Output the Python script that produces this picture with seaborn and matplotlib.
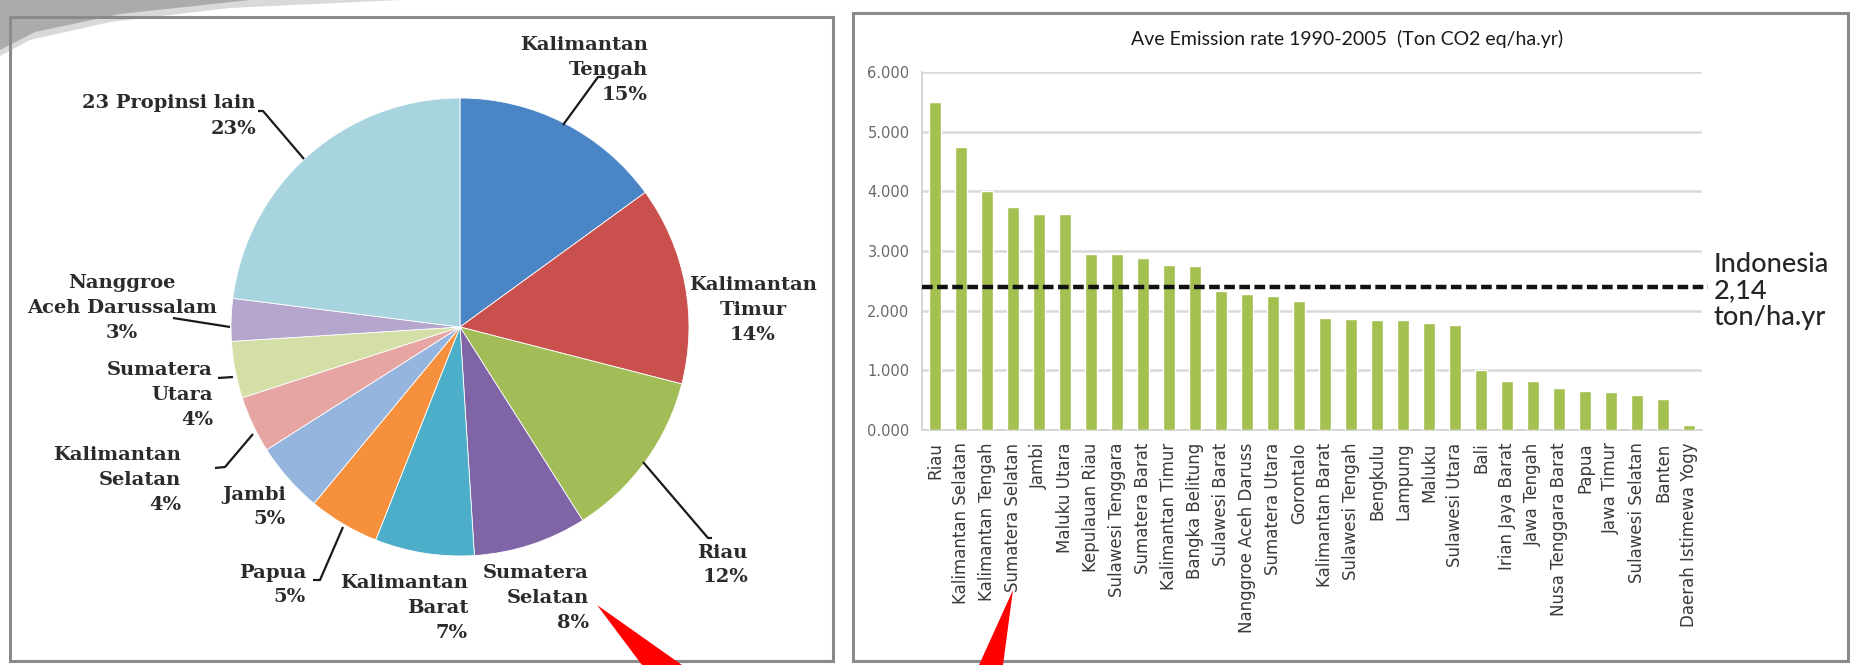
import numpy as np
import pandas as pd
import matplotlib
matplotlib.use("Agg")
import matplotlib.pyplot as plt
import seaborn as sns
from matplotlib.patches import Polygon, Rectangle

# ---------------- data ----------------
pie_labels = ["Kalimantan\nTengah", "Kalimantan\nTimur", "Riau", "Sumatera\nSelatan",
              "Kalimantan\nBarat", "Papua", "Jambi", "Kalimantan\nSelatan",
              "Sumatera\nUtara", "Nanggroe\nAceh Darussalam", "23 Propinsi lain"]
pie_share = [15, 14, 12, 8, 7, 5, 5, 4, 4, 3, 23]
pie_colors = ["#4A86C5", "#C9504C", "#A2BC57", "#8065A6", "#4CAEC8", "#F7903C",
              "#95B5DE", "#E6A5A2", "#D3DFA6", "#B5A6CE", "#A7D4DF"]

provinces = ["Riau", "Kalimantan Selatan", "Kalimantan Tengah", "Sumatera Selatan", "Jambi",
             "Maluku Utara", "Kepulauan Riau", "Sulawesi Tenggara", "Sumatera Barat",
             "Kalimantan Timur", "Bangka Belitung", "Sulawesi Barat", "Nanggroe Aceh Daruss",
             "Sumatera Utara", "Gorontalo", "Kalimantan Barat", "Sulawesi Tengah", "Bengkulu",
             "Lampung", "Maluku", "Sulawesi Utara", "Bali", "Irian Jaya Barat", "Jawa Tengah",
             "Nusa Tenggara Barat", "Papua", "Jawa Timur", "Sulawesi Selatan", "Banten",
             "Daerah Istimewa Yogy"]
rates = [5.50, 4.75, 4.00, 3.74, 3.62, 3.62, 2.95, 2.95, 2.88, 2.76, 2.75, 2.33, 2.28, 2.25,
         2.17, 1.87, 1.86, 1.84, 1.84, 1.79, 1.76, 1.00, 0.82, 0.82, 0.71, 0.66, 0.63, 0.58,
         0.52, 0.08]
y_ticks = [0, 1, 2, 3, 4, 5, 6]
y_tick_labels = ["0.000", "1.000", "2.000", "3.000", "4.000", "5.000", "6.000"]
indonesia_line = 2.4
indonesia_text = "Indonesia\n2,14\nton/ha.yr"
bar_title = "Ave Emission rate 1990-2005  (Ton CO2 eq/ha.yr)"
bar_color = "#A3C050"

# ---------------- figure ----------------
W, H = 1853, 665
sns.set_theme(style="white")
plt.rcParams["font.family"] = ["DejaVu Sans"]

fig = plt.figure(figsize=(W / 100, H / 100), dpi=100)
fig.patch.set_facecolor("white")


def fr(x0, y0, x1, y1):
    return [x0 / W, 1 - y1 / H, (x1 - x0) / W, (y1 - y0) / H]


# ---- pie ----
cx, cy, r = 460, 327, 229
axp = fig.add_axes(fr(cx - r, cy - r, cx + r, cy + r))
axp.pie(pie_share, colors=pie_colors, startangle=90, counterclock=False, radius=1,
        wedgeprops=dict(edgecolor="white", linewidth=0.6))
axp.set_xlim(-1, 1)
axp.set_ylim(-1, 1)
axp.set_aspect("equal")
axp.axis("off")

# ---- bars ----
axb = fig.add_axes(fr(922, 72, 1702, 430))
df = pd.DataFrame({"prov": provinces, "rate": rates})
sns.barplot(data=df, x="prov", y="rate", color=bar_color, saturation=1, width=0.46,
            errorbar=None, ax=axb, zorder=3)
axb.set_xlim(-0.5, len(provinces) - 0.5)
axb.set_ylim(0, 6)
axb.set_yticks(y_ticks)
axb.set_yticklabels(y_tick_labels, fontsize=10.5, color="#6a6a6a")
axb.set_xticks(range(len(provinces)))
axb.set_xticklabels(provinces, rotation=90, fontsize=12, color="#3a3a3a")
axb.set_xlabel("")
axb.set_ylabel("")
axb.yaxis.grid(True, color="#d9d9d9", lw=1.8)
axb.set_axisbelow(True)
for s in ["top", "right"]:
    axb.spines[s].set_visible(False)
for s in ["left", "bottom"]:
    axb.spines[s].set_color("#d0d0d0")
    axb.spines[s].set_linewidth(1.2)
axb.tick_params(axis="y", length=0, pad=9)
axb.tick_params(axis="x", length=4, color="#c8d0e0", pad=5)
axb.axhline(indonesia_line, xmin=0, xmax=1.008, color="#111111", lw=3.2,
            dashes=(2.4, 1.0), clip_on=False, zorder=5)

# ---- overlay (pixel coordinates) ----
axo = fig.add_axes([0, 0, 1, 1], zorder=10)
axo.set_xlim(0, W)
axo.set_ylim(H, 0)
axo.axis("off")
axo.patch.set_alpha(0)

# slide decoration
axo.add_patch(Polygon([(0, 0), (400, 0), (230, 8), (110, 22), (30, 40), (0, 56)],
                      closed=True, fc="#d9d9d9", ec="none"))
axo.add_patch(Polygon([(0, 0), (250, 0), (120, 14), (35, 32), (0, 50)],
                      closed=True, fc="#ababab", ec="none"))
# panel frames
axo.add_patch(Rectangle((10, 17), 823, 644, fill=False, ec="#8a8a8a", lw=2.2))
axo.add_patch(Rectangle((853, 13), 995, 648, fill=False, ec="#8a8a8a", lw=2.2))

# title and reference label
axo.text(1347, 39, bar_title, ha="center", va="center", fontsize=14,
         family="Lato", color="#1a1a1a")
axo.text(1714, 291, indonesia_text, ha="left", va="center", fontsize=19.5,
         family="Lato", fontweight="medium", color="#262626", linespacing=1.05)

# pie labels: (x, y, ha) in pixels, in slice order
label_pos = [(648, 70, "right"), (753, 310, "center"), (748, 565, "right"),
             (589, 598, "right"), (468, 608, "right"), (306, 585, "right"),
             (286, 507, "right"), (181, 480, "right"), (213, 395, "right"),
             (122, 308, "center"), (256, 116, "right")]
for name, share, (x, y, ha) in zip(pie_labels, pie_share, label_pos):
    axo.text(x, y, f"{name}\n{share}%", ha=ha, va="center", multialignment=ha,
             fontsize=14, fontweight="bold", family="DejaVu Serif",
             color="#2b2b2b", linespacing=1.5)

leaders = [
    [(563, 125), (598, 77), (604, 77)],
    [(643, 462), (708, 538), (712, 538)],
    [(343, 527), (320, 580), (313, 580)],
    [(253, 434), (225, 467), (215, 468)],
    [(233, 377), (218, 378)],
    [(230, 327), (173, 318)],
    [(304, 159), (263, 111), (258, 111)],
]
for pts in leaders:
    xs, ys = zip(*pts)
    axo.plot(xs, ys, color="#1a1a1a", lw=1.6, solid_capstyle="butt")

# red pointer arrows
axo.add_patch(Polygon([(597, 605), (642, 665), (682, 665)], closed=True,
                      fc="#ff0000", ec="none"))
axo.add_patch(Polygon([(1013, 590), (979, 665), (1003, 665)], closed=True,
                      fc="#ff0000", ec="none"))

fig.savefig("out.png", dpi=100, facecolor="white")
